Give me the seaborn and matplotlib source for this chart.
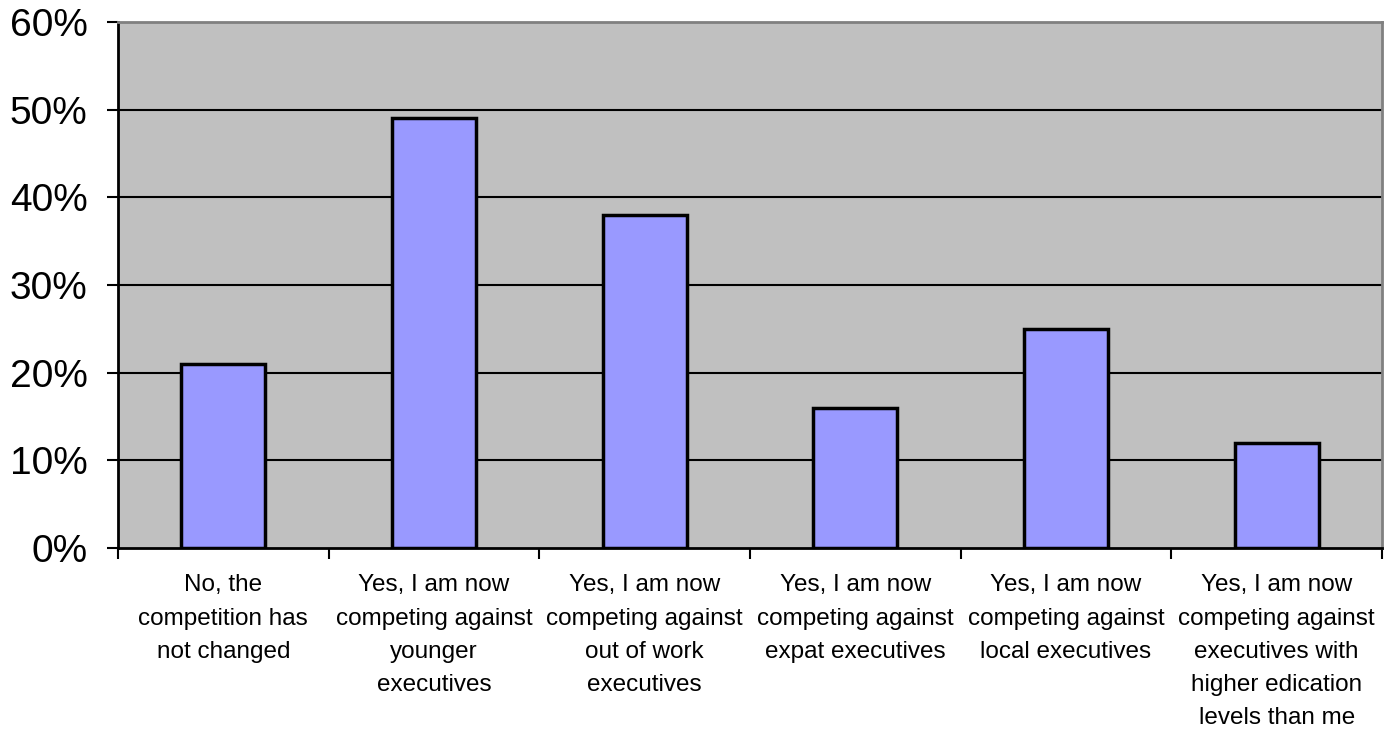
import matplotlib
matplotlib.use("Agg")
import matplotlib.pyplot as plt
import seaborn as sns
import pandas as pd
import numpy as np

categories = [
    "No, the\ncompetition has\nnot changed",
    "Yes, I am now\ncompeting against\nyounger\nexecutives",
    "Yes, I am now\ncompeting against\nout of work\nexecutives",
    "Yes, I am now\ncompeting against\nexpat executives",
    "Yes, I am now\ncompeting against\nlocal executives",
    "Yes, I am now\ncompeting against\nexecutives with\nhigher edication\nlevels than me",
]
values = [21, 49, 38, 16, 25, 12]
y_ticks = [0, 10, 20, 30, 40, 50, 60]
y_labels = ["0%", "10%", "20%", "30%", "40%", "50%", "60%"]

sns.set_style("white")
plt.rcParams['font.family'] = ['Liberation Sans', 'DejaVu Sans']

df = pd.DataFrame({"cat": categories, "val": values})

fig = plt.figure(figsize=(13.93, 7.30), dpi=100)
ax = fig.add_axes([118/1393, 1 - 548/730, (1382-118)/1393, (548-22)/730])
ax.set_facecolor("#C0C0C0")

sns.barplot(data=df, x="cat", y="val", color="#9999FF", edgecolor="black",
            linewidth=2.5, width=0.4, saturation=1, ax=ax, zorder=3)

ax.set_ylim(0, 60)
ax.set_xlim(-0.5, len(categories) - 0.5)
ax.set_yticks(y_ticks)
ax.set_yticklabels(y_labels, fontsize=28, color="black")
for y in y_ticks[1:-1]:
    ax.axhline(y, color="black", linewidth=1.5, zorder=1)

ax.set_xticks(range(len(categories)))
ax.set_xticklabels(categories, fontsize=17.5, linespacing=1.66, va="top", color="black")
ax.tick_params(axis="x", which="major", bottom=True, length=0, pad=19)
ax.set_xticks(np.arange(-0.5, len(categories)), minor=True)
ax.tick_params(axis="x", which="minor", bottom=True, length=8, width=1.5,
               color="black", direction="out")
ax.tick_params(axis="y", left=True, length=8, width=1.5, color="black",
               direction="out", pad=14)

ax.set_xlabel("")
ax.set_ylabel("")
for s in ["left", "bottom"]:
    ax.spines[s].set_color("black")
    ax.spines[s].set_linewidth(2)
    ax.spines[s].set_visible(True)
ax.spines["top"].set_color("#808080")
ax.spines["top"].set_linewidth(2)
ax.spines["right"].set_color("#808080")
ax.spines["right"].set_linewidth(2)
ax.spines["top"].set_visible(True)
ax.spines["right"].set_visible(True)

fig.savefig("out.png", dpi=100, facecolor="white")
